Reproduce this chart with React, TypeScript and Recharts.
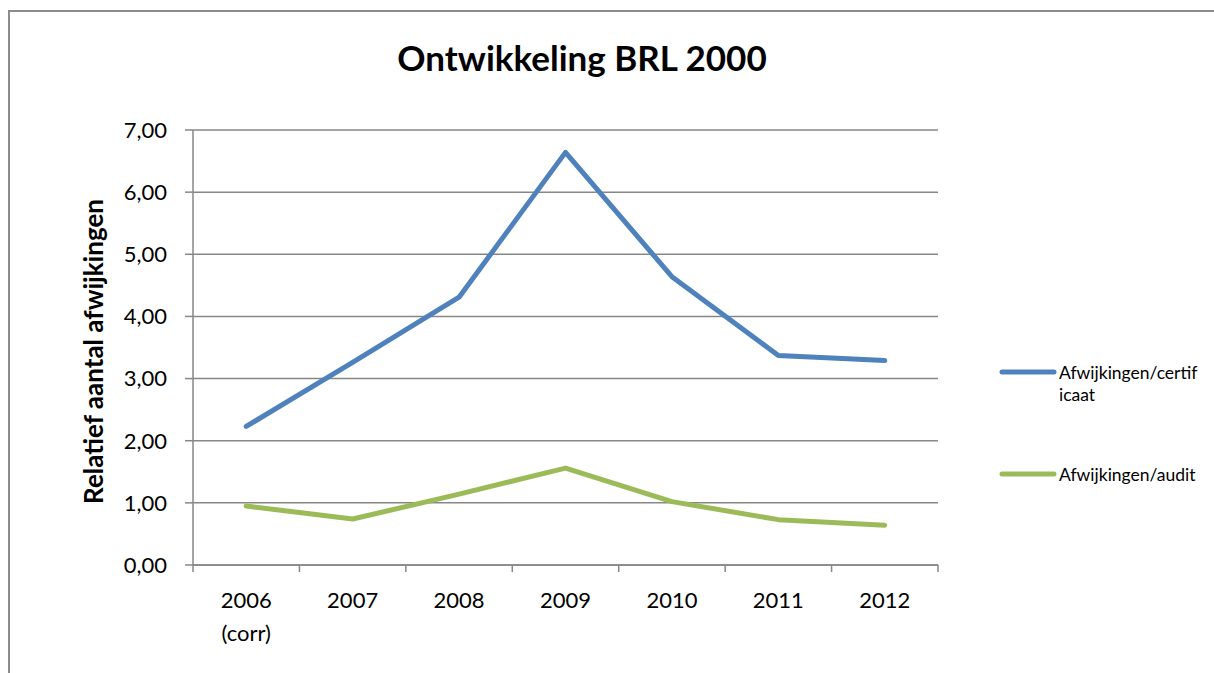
import React from "react";
import { LineChart, Line, XAxis, YAxis, CartesianGrid, Legend } from "recharts";

const CATEGORIES = ["2006 (corr)", "2007", "2008", "2009", "2010", "2011", "2012"];
const CERTIFICAAT = [2.23, 3.26, 4.31, 6.64, 4.64, 3.37, 3.29];
const AUDIT = [0.95, 0.74, 1.14, 1.56, 1.02, 0.73, 0.64];
const Y_TICKS = [0, 1, 2, 3, 4, 5, 6, 7];
const SERIES_NAMES = ["Afwijkingen/certificaat", "Afwijkingen/audit"];
const TITLE = "Ontwikkeling BRL 2000";
const Y_LABEL = "Relatief aantal afwijkingen";

const data = CATEGORIES.map((c, i) => ({ cat: c, cert: CERTIFICAAT[i], audit: AUDIT[i] }));

const FONT = "Lato, 'Open Sans', sans-serif";
const GRID = "#878787";
const BLUE = "#4F81BD";
const GREEN = "#9BBB59";

const W = 1214;
const H = 673;
const M = { top: 130, right: 276, bottom: 48, left: 0 };
const Y_W = 193;
const X_H = 60;
const BAND = (W - M.right - M.left - Y_W) / CATEGORIES.length;

const fmt = (v: number) => v.toFixed(2).replace(".", ",");

function XTick(props: any) {
  const { x, y, payload, index } = props;
  const off = payload && typeof payload.offset === "number" && payload.offset > 0 ? payload.offset : BAND / 2;
  const lines = String(payload.value).split(" ");
  return (
    <g>
      <line x1={x - off} x2={x - off} y1={y} y2={y + 7} stroke={GRID} strokeWidth={1.5} />
      {index === CATEGORIES.length - 1 && (
        <line x1={x + off} x2={x + off} y1={y} y2={y + 7} stroke={GRID} strokeWidth={1.5} />
      )}
      <text x={x} y={y} textAnchor="middle" fontFamily={FONT} fontSize={22} fill="#000">
        {lines.map((l, i) => (
          <tspan key={i} x={x} dy={i === 0 ? 43 : 33}>
            {l}
          </tspan>
        ))}
      </text>
    </g>
  );
}

function splitLabel(s: string) {
  const out: string[] = [];
  for (let i = 0; i < s.length; i += 18) out.push(s.slice(i, i + 18));
  return out;
}

function LegendContent(props: any) {
  const items = [...(props.payload || [])].sort(
    (a: any, b: any) => SERIES_NAMES.indexOf(String(a.value)) - SERIES_NAMES.indexOf(String(b.value))
  );
  return (
    <div style={{ position: "relative", width: 213, height: 130 }}>
      {items.map((p: any, i: number) => (
        <div key={i} style={{ position: "absolute", left: 0, top: i * 102, width: 213 }}>
          <svg width={58} height={8} style={{ position: "absolute", left: -2, top: 8 }}>
            <line x1={3} x2={55} y1={4} y2={4} stroke={p.color} strokeWidth={5} strokeLinecap="round" />
          </svg>
          <div
            style={{
              position: "absolute",
              left: 58,
              top: 2,
              fontFamily: FONT,
              fontSize: 17.5,
              lineHeight: "21.7px",
              color: "#000",
              whiteSpace: "nowrap",
            }}
          >
            {splitLabel(String(p.value)).map((l, k) => (
              <div key={k}>{l}</div>
            ))}
          </div>
        </div>
      ))}
    </div>
  );
}

export default function App() {
  return (
    <div style={{ position: "fixed", left: 0, top: 0, width: W, height: H, overflow: "hidden", background: "#fff" }}>
      <div
        style={{
          position: "absolute",
          left: 8,
          top: 10,
          width: 1300,
          height: 800,
          borderLeft: "2px solid #8c8c8c",
          borderTop: "2px solid #8c8c8c",
        }}
      />
      <div
        style={{
          position: "absolute",
          left: 0,
          top: 40,
          width: 1164,
          textAlign: "center",
          fontFamily: FONT,
          fontWeight: 700,
          fontSize: 35,
          lineHeight: 1,
          color: "#000",
        }}
      >
        {TITLE}
      </div>
      <div style={{ position: "absolute", left: 0, top: 0 }}>
        <LineChart width={W} height={H} data={data} margin={M}>
          <CartesianGrid vertical={false} stroke={GRID} strokeWidth={1.5} />
          <XAxis
            dataKey="cat"
            scale="band"
            interval={0}
            height={X_H}
            tickLine={false}
            tickSize={0}
            tickMargin={0}
            axisLine={{ stroke: GRID, strokeWidth: 1.5 }}
            tick={<XTick />}
          />
          <YAxis
            width={Y_W}
            domain={[0, 7]}
            ticks={Y_TICKS}
            interval={0}
            tickFormatter={fmt}
            tickSize={8}
            tickMargin={18}
            tickLine={{ stroke: GRID, strokeWidth: 1.5 }}
            axisLine={{ stroke: GRID, strokeWidth: 1.5 }}
            tick={{ fontFamily: FONT, fontSize: 22, fill: "#000" }}
            label={{
              content: (p: any) => {
                const vb = p.viewBox || { x: 0, y: M.top, width: Y_W, height: H - M.top - M.bottom - X_H };
                const cx = vb.x + 103;
                const cy = vb.y + vb.height / 2 + 4;
                return (
                  <text
                    x={cx}
                    y={cy}
                    transform={`rotate(-90 ${cx} ${cy})`}
                    textAnchor="middle"
                    fontFamily={FONT}
                    fontWeight={700}
                    fontSize={26}
                    fill="#000"
                  >
                    {Y_LABEL}
                  </text>
                );
              },
            }}
          />
          <Legend
            layout="horizontal"
            align="center"
            verticalAlign="middle"
            content={<LegendContent />}
            wrapperStyle={{ left: 1001, top: 360, width: 213, height: 130 }}
          />
          <Line
            type="linear"
            dataKey="cert"
            name={SERIES_NAMES[0]}
            stroke={BLUE}
            strokeWidth={5}
            dot={false}
            activeDot={false}
            strokeLinecap="round"
            strokeLinejoin="round"
            isAnimationActive={false}
          />
          <Line
            type="linear"
            dataKey="audit"
            name={SERIES_NAMES[1]}
            stroke={GREEN}
            strokeWidth={5}
            dot={false}
            activeDot={false}
            strokeLinecap="round"
            strokeLinejoin="round"
            isAnimationActive={false}
          />
        </LineChart>
      </div>
    </div>
  );
}
